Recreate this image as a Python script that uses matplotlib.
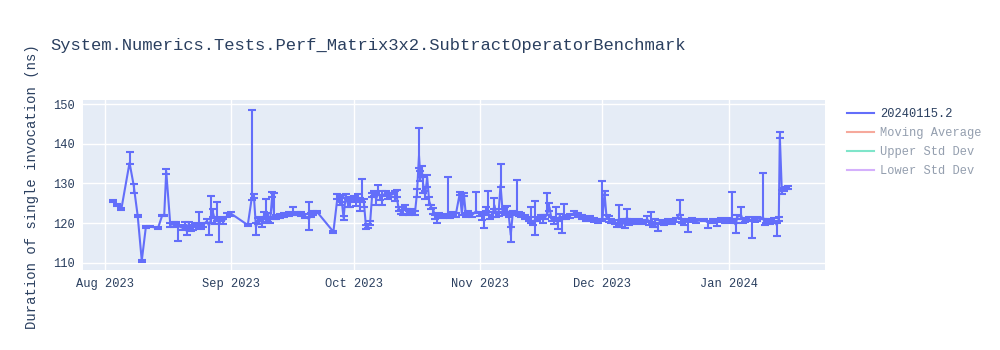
import pandas as pd
import matplotlib
matplotlib.use("Agg")
import matplotlib.pyplot as plt
import matplotlib.dates as mdates
from matplotlib.lines import Line2D

# (date, mean, error up, error down)
aug_points = [
    ("2023-08-03", 125.5, 0.3, 0.3), ("2023-08-04", 124.6, 0.3, 0.3), ("2023-08-05", 123.6, 0.3, 0.3),
    ("2023-08-07", 135.2, 2.8, 0.3), ("2023-08-08", 129.6, 0.3, 2.0), ("2023-08-09", 121.8, 0.2, 0.2),
    ("2023-08-10", 110.5, 0.2, 0.2), ("2023-08-11", 119.0, 0.2, 0.2), ("2023-08-12", 119.1, 0.2, 0.2),
    ("2023-08-14", 118.8, 0.2, 0.2), ("2023-08-15", 121.9, 0.2, 0.2), ("2023-08-15 12:00", 121.9, 0.2, 0.2),
    ("2023-08-16", 133.0, 0.6, 0.6), ("2023-08-17", 119.5, 0.5, 0.5), ("2023-08-18", 119.8, 0.5, 0.8),
    ("2023-08-18 12:00", 120.0, 0.3, 0.3), ("2023-08-19", 119.2, 0.4, 3.7), ("2023-08-20", 118.8, 0.6, 0.6),
    ("2023-08-20 12:00", 119.5, 0.8, 0.5), ("2023-08-21", 118.0, 0.5, 1.0), ("2023-08-21 12:00", 119.8, 0.5, 0.5),
    ("2023-08-22", 118.5, 0.6, 0.6), ("2023-08-22 12:00", 119.0, 0.4, 0.8), ("2023-08-23", 119.6, 0.3, 0.6),
    ("2023-08-24", 119.3, 3.4, 0.5), ("2023-08-24 12:00", 119.0, 0.5, 0.5), ("2023-08-25", 119.5, 0.6, 0.6),
    ("2023-08-26", 120.5, 0.5, 0.5), ("2023-08-26 12:00", 119.3, 0.6, 2.2), ("2023-08-27", 121.0, 5.8, 1.0),
    ("2023-08-27 12:00", 122.5, 1.0, 1.0), ("2023-08-28", 120.5, 0.8, 0.8), ("2023-08-28 12:00", 121.5, 3.8, 1.0),
    ("2023-08-29", 119.8, 0.8, 4.5), ("2023-08-29 12:00", 121.0, 0.6, 0.6), ("2023-08-30", 120.3, 0.8, 0.5),
    ("2023-08-31", 122.0, 0.5, 0.5),
]
sep_points = [
    ("2023-09-01", 122.3, 0.4, 0.4), ("2023-09-05", 119.5, 0.3, 0.3), ("2023-09-06", 126.5, 22.0, 0.6),
    ("2023-09-06 12:00", 126.8, 0.5, 0.5), ("2023-09-07", 119.0, 1.0, 2.0), ("2023-09-07 12:00", 120.5, 0.8, 0.8),
    ("2023-09-08", 121.0, 0.5, 0.5), ("2023-09-08 12:00", 120.0, 1.0, 1.0), ("2023-09-09", 122.0, 0.8, 0.8),
    ("2023-09-09 12:00", 120.5, 5.5, 0.5), ("2023-09-10", 121.0, 1.5, 0.8), ("2023-09-10 12:00", 120.8, 0.8, 0.8),
    ("2023-09-11", 127.0, 0.8, 0.5), ("2023-09-11 12:00", 121.5, 6.0, 0.5), ("2023-09-12", 121.5, 0.5, 0.5),
    ("2023-09-13", 121.8, 0.5, 0.5), ("2023-09-14", 122.0, 0.5, 0.5), ("2023-09-15", 122.3, 0.6, 0.6),
    ("2023-09-16", 122.5, 1.5, 0.5), ("2023-09-17", 122.5, 0.4, 0.4), ("2023-09-18", 122.3, 0.5, 0.5),
    ("2023-09-19", 121.8, 0.5, 0.5), ("2023-09-20", 121.0, 4.3, 2.7), ("2023-09-20 12:00", 122.0, 0.5, 0.5),
    ("2023-09-21", 122.5, 0.5, 0.5), ("2023-09-22", 122.8, 0.3, 0.3), ("2023-09-26", 117.8, 0.3, 0.3),
    ("2023-09-27", 126.5, 0.8, 0.5), ("2023-09-27 12:00", 125.5, 1.0, 1.0), ("2023-09-28", 126.0, 1.0, 0.8),
    ("2023-09-28 12:00", 121.3, 0.6, 0.6), ("2023-09-29", 126.8, 0.5, 0.5), ("2023-09-29 12:00", 125.0, 1.0, 1.0),
    ("2023-09-30", 125.5, 1.0, 1.5),
]
oct_points = [
    ("2023-10-01", 126.0, 0.8, 0.8), ("2023-10-01 12:00", 125.2, 1.0, 1.0), ("2023-10-02", 126.5, 0.8, 0.8),
    ("2023-10-02 12:00", 125.5, 0.8, 2.5), ("2023-10-03", 126.0, 5.0, 0.8), ("2023-10-03 12:00", 125.0, 1.0, 1.0),
    ("2023-10-04", 119.0, 0.5, 0.5), ("2023-10-04 12:00", 119.2, 0.5, 0.5), ("2023-10-05", 120.0, 0.6, 0.6),
    ("2023-10-05 12:00", 127.0, 0.5, 0.5), ("2023-10-06", 127.5, 0.6, 0.6), ("2023-10-06 12:00", 126.0, 1.5, 1.5),
    ("2023-10-07", 127.8, 1.8, 0.8), ("2023-10-07 12:00", 126.5, 0.6, 0.6), ("2023-10-08", 127.0, 1.0, 2.4),
    ("2023-10-09", 127.5, 0.6, 0.6), ("2023-10-09 12:00", 126.8, 0.8, 0.8), ("2023-10-10", 127.0, 0.5, 0.5),
    ("2023-10-11", 127.5, 0.5, 2.0), ("2023-10-11 12:00", 127.0, 1.3, 0.5), ("2023-10-12", 123.5, 0.5, 0.5),
    ("2023-10-12 12:00", 122.8, 0.5, 0.5), ("2023-10-13", 123.5, 0.6, 1.5), ("2023-10-13 12:00", 124.0, 0.5, 0.5),
    ("2023-10-14", 123.0, 0.5, 0.8), ("2023-10-14 12:00", 122.5, 0.5, 0.5), ("2023-10-15", 123.0, 0.5, 0.5),
    ("2023-10-16", 122.5, 0.5, 0.5), ("2023-10-16 12:00", 127.5, 1.0, 1.0), ("2023-10-17", 137.0, 7.0, 3.0),
    ("2023-10-17 08:00", 131.5, 1.5, 1.0), ("2023-10-17 16:00", 133.5, 1.0, 2.0), ("2023-10-18", 130.0, 1.5, 2.5),
    ("2023-10-18 12:00", 127.0, 1.0, 1.0), ("2023-10-19", 131.5, 0.5, 2.5), ("2023-10-19 12:00", 125.5, 1.0, 1.0),
    ("2023-10-20", 124.0, 0.5, 0.5), ("2023-10-20 12:00", 123.3, 0.5, 1.0), ("2023-10-21", 121.5, 0.5, 0.5),
    ("2023-10-21 12:00", 121.0, 1.0, 1.0), ("2023-10-22", 122.0, 0.5, 0.5), ("2023-10-23", 121.8, 0.5, 0.5),
    ("2023-10-24", 122.0, 9.6, 0.5), ("2023-10-24 12:00", 121.8, 0.5, 0.5), ("2023-10-25", 122.3, 0.5, 0.5),
    ("2023-10-26", 122.0, 0.5, 0.5), ("2023-10-27", 127.5, 0.4, 0.4), ("2023-10-27 12:00", 122.5, 5.0, 0.5),
    ("2023-10-28", 127.3, 0.4, 0.4), ("2023-10-28 12:00", 122.0, 0.5, 0.5), ("2023-10-29", 122.5, 0.5, 0.5),
    ("2023-10-30", 122.0, 0.5, 0.5), ("2023-10-31", 123.0, 4.8, 0.5),
]
nov_points = [
    ("2023-11-01", 122.3, 0.5, 0.5), ("2023-11-01 12:00", 121.5, 0.8, 0.8), ("2023-11-02", 122.0, 0.5, 3.2),
    ("2023-11-02 12:00", 123.5, 0.5, 0.5), ("2023-11-03", 122.5, 5.5, 0.5), ("2023-11-03 12:00", 121.5, 0.5, 0.5),
    ("2023-11-04", 122.0, 0.8, 0.5), ("2023-11-04 12:00", 124.5, 1.8, 1.0), ("2023-11-05", 122.0, 0.5, 0.5),
    ("2023-11-05 12:00", 122.3, 0.5, 0.5), ("2023-11-06", 129.6, 5.3, 0.5), ("2023-11-06 12:00", 123.0, 0.5, 0.5),
    ("2023-11-07", 122.5, 1.5, 0.5), ("2023-11-07 12:00", 123.5, 0.8, 0.8), ("2023-11-08", 122.0, 0.5, 0.5),
    ("2023-11-08 12:00", 117.0, 2.0, 1.7), ("2023-11-09", 122.5, 0.5, 0.5), ("2023-11-10", 122.8, 8.0, 0.5),
    ("2023-11-10 12:00", 122.3, 0.5, 0.5), ("2023-11-11", 122.0, 0.5, 0.5), ("2023-11-12", 121.5, 0.5, 0.5),
    ("2023-11-13", 121.0, 0.5, 0.5), ("2023-11-13 12:00", 120.5, 3.5, 0.5), ("2023-11-14", 120.0, 0.5, 0.5),
    ("2023-11-14 12:00", 121.0, 4.6, 4.0), ("2023-11-15", 121.0, 0.5, 0.5), ("2023-11-16", 121.5, 0.6, 0.6),
    ("2023-11-16 12:00", 121.0, 1.0, 1.0), ("2023-11-17", 121.5, 0.5, 0.5), ("2023-11-17 12:00", 122.5, 5.1, 0.5),
    ("2023-11-18", 124.0, 1.0, 1.0), ("2023-11-18 12:00", 121.0, 0.5, 0.5), ("2023-11-19", 120.5, 0.8, 0.8),
    ("2023-11-19 12:00", 121.5, 2.5, 0.5), ("2023-11-20", 120.0, 0.6, 1.5), ("2023-11-20 12:00", 121.8, 0.5, 0.5),
    ("2023-11-21", 120.5, 0.5, 3.0), ("2023-11-21 12:00", 122.0, 2.8, 0.5), ("2023-11-22", 121.5, 0.5, 0.5),
    ("2023-11-23", 121.8, 0.5, 0.5), ("2023-11-24", 122.5, 0.5, 0.5), ("2023-11-25", 122.0, 0.5, 0.5),
    ("2023-11-26", 121.5, 0.5, 0.5), ("2023-11-27", 121.0, 0.5, 0.5), ("2023-11-28", 121.3, 0.5, 0.5),
    ("2023-11-29", 120.8, 0.5, 0.5), ("2023-11-30", 120.5, 0.5, 0.5),
]
dec_points = [
    ("2023-12-01", 121.0, 9.6, 0.5), ("2023-12-01 12:00", 127.6, 0.5, 0.5), ("2023-12-02", 121.5, 0.5, 0.5),
    ("2023-12-02 12:00", 121.0, 0.8, 0.8), ("2023-12-03", 120.5, 0.5, 0.5), ("2023-12-04", 120.3, 0.5, 0.5),
    ("2023-12-04 12:00", 119.5, 0.5, 0.5), ("2023-12-05", 121.0, 3.6, 1.5), ("2023-12-05 12:00", 120.0, 0.5, 1.0),
    ("2023-12-06", 120.5, 0.5, 0.5), ("2023-12-06 12:00", 119.5, 0.8, 0.8), ("2023-12-07", 121.5, 2.1, 0.5),
    ("2023-12-07 12:00", 120.0, 0.5, 0.5), ("2023-12-08", 120.5, 0.5, 0.5), ("2023-12-09", 120.3, 0.5, 0.5),
    ("2023-12-10", 120.5, 0.4, 0.4), ("2023-12-11", 120.2, 0.5, 0.5), ("2023-12-12", 121.0, 0.8, 0.8),
    ("2023-12-12 12:00", 120.0, 0.5, 0.5), ("2023-12-13", 121.0, 1.8, 0.8), ("2023-12-13 12:00", 119.5, 0.5, 0.5),
    ("2023-12-14", 120.0, 1.0, 1.0), ("2023-12-14 12:00", 119.5, 0.5, 1.5), ("2023-12-15", 120.3, 0.5, 0.5),
    ("2023-12-16", 120.0, 0.5, 0.5), ("2023-12-17", 120.5, 0.5, 0.5), ("2023-12-18", 120.3, 0.5, 0.5),
    ("2023-12-19", 120.8, 0.5, 0.5), ("2023-12-20", 122.5, 3.3, 0.5), ("2023-12-20 12:00", 120.5, 0.5, 0.5),
    ("2023-12-21", 120.0, 0.5, 0.5), ("2023-12-22", 120.5, 0.5, 2.7), ("2023-12-23", 120.7, 0.5, 0.5),
    ("2023-12-24", 120.5, 0.5, 0.5), ("2023-12-26", 120.8, 0.3, 0.3), ("2023-12-27", 120.0, 0.5, 1.2),
    ("2023-12-28", 120.5, 0.5, 0.5), ("2023-12-29", 120.3, 0.5, 1.0), ("2023-12-30", 120.8, 0.5, 0.5),
    ("2023-12-31", 120.5, 0.5, 0.5),
]
jan_points = [
    ("2024-01-01", 120.8, 0.5, 0.5), ("2024-01-01 18:00", 121.0, 6.8, 0.5), ("2024-01-02", 120.5, 0.5, 0.5),
    ("2024-01-02 18:00", 119.5, 0.5, 2.0), ("2024-01-03", 121.5, 0.5, 0.5), ("2024-01-04", 122.0, 2.0, 1.0),
    ("2024-01-04 12:00", 120.5, 0.5, 0.5), ("2024-01-05", 120.8, 0.5, 0.5), ("2024-01-06", 121.0, 0.5, 0.5),
    ("2024-01-06 18:00", 120.3, 0.5, 4.0), ("2024-01-07 12:00", 120.8, 0.5, 0.5), ("2024-01-08", 121.0, 0.5, 0.5),
    ("2024-01-09 09:00", 121.5, 11.1, 0.5), ("2024-01-09 18:00", 120.0, 1.0, 0.5), ("2024-01-10", 120.5, 0.5, 0.5),
    ("2024-01-11", 120.3, 0.5, 0.5), ("2024-01-12", 120.8, 0.5, 0.5), ("2024-01-12 18:00", 119.5, 0.5, 2.7),
    ("2024-01-13 06:00", 121.0, 0.5, 0.5), ("2024-01-13 12:00", 142.0, 1.0, 0.5), ("2024-01-14", 127.8, 0.5, 0.5),
    ("2024-01-14 12:00", 128.5, 0.3, 0.3), ("2024-01-15", 128.8, 0.3, 0.3), ("2024-01-15 12:00", 129.0, 0.3, 0.3),
]

series_name = "20240115.2"
hidden_traces = ["Moving Average", "Upper Std Dev", "Lower Std Dev"]
hidden_colors = ["#EF553B", "#00CC96", "#AB63FA"]

points = aug_points + sep_points + oct_points + nov_points + dec_points + jan_points
dates = pd.to_datetime([p[0] for p in points], format="mixed")
values = [p[1] for p in points]
err_up = [p[2] for p in points]
err_down = [p[3] for p in points]

font = "Liberation Mono"
text_color = "#2a3f5f"
plt.rcParams["font.family"] = [font, "DejaVu Sans"]

fig = plt.figure(figsize=(10, 3.5), dpi=100)
ax = fig.add_axes([0.083, 0.229, 0.742, 0.485])
ax.set_facecolor("#E5ECF6")

ax.errorbar(dates, values, yerr=[err_down, err_up], color="#636EFA", lw=1.5,
            elinewidth=1.5, capsize=3, capthick=1.5, zorder=3)

ax.set_ylim(108.2, 151)
ax.set_yticks([110, 120, 130, 140, 150])
ax.set_xlim(pd.Timestamp("2023-07-26 14:00"), pd.Timestamp("2024-01-24 14:00"))
ax.xaxis.set_major_locator(mdates.MonthLocator())
ax.xaxis.set_major_formatter(mdates.DateFormatter("%b %Y"))
ax.grid(True, color="white", lw=1)
ax.set_axisbelow(True)
for s in ax.spines.values():
    s.set_visible(False)
ax.tick_params(length=0, labelsize=8.64, labelcolor=text_color, pad=6)

fig.text(0.05, 0.87, "System.Numerics.Tests.Perf_Matrix3x2.SubtractOperatorBenchmark",
         fontsize=12.3, color=text_color, va="center", ha="left")
fig.text(0.032, 0.466, "Duration of single invocation (ns)", rotation=90,
         fontsize=10, color=text_color, va="center", ha="center")

handles = [Line2D([], [], color="#636EFA", lw=1.5)]
handles += [Line2D([], [], color=c, lw=1.5, alpha=0.5) for c in hidden_colors]
leg = fig.legend(handles, [series_name] + hidden_traces, loc="upper left",
                 bbox_to_anchor=(0.842, 0.705), frameon=False, fontsize=8.64,
                 handlelength=2.3, handletextpad=0.5, labelspacing=0.58, borderaxespad=0)
for i, t in enumerate(leg.get_texts()):
    t.set_color(text_color)
    if i > 0:
        t.set_alpha(0.5)

fig.savefig("out.png", dpi=100)
